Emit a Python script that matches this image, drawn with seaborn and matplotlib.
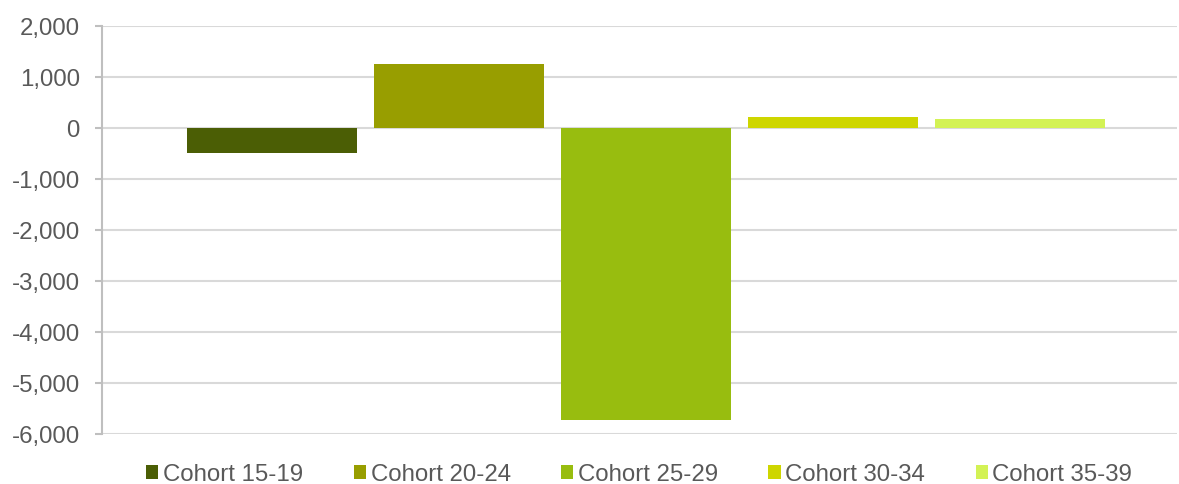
import matplotlib
matplotlib.use("Agg")
import matplotlib.pyplot as plt
import matplotlib.ticker as ticker
import pandas as pd
import seaborn as sns

# chart data
cohorts = ["Cohort 15-19", "Cohort 20-24", "Cohort 25-29", "Cohort 30-34", "Cohort 35-39"]
changes = [-490, 1255, -5725, 210, 175]
bar_colors = ["#4B5E05", "#989E00", "#98BD0F", "#CED600", "#D3F255"]
y_ticks = [2000, 1000, 0, -1000, -2000, -3000, -4000, -5000, -6000]

df = pd.DataFrame({"group": [""] * len(cohorts), "cohort": cohorts, "change": changes})

sns.set_style("white")
plt.rcParams["font.family"] = ["Liberation Sans", "DejaVu Sans"]
plt.rcParams["axes.unicode_minus"] = False

fig = plt.figure(figsize=(11.79, 4.84), dpi=100)
ax = fig.add_axes([0.0865, 0.103, 0.9115, 0.843])

sns.barplot(data=df, x="group", y="change", hue="cohort", hue_order=cohorts,
            palette=bar_colors, width=0.87, gap=0.09, saturation=1,
            edgecolor="none", ax=ax, legend=True)

ax.set_ylim(-6000, 2000)
ax.set_yticks(y_ticks)
ax.yaxis.set_major_formatter(ticker.StrMethodFormatter("{x:,.0f}"))
ax.set_xlim(-0.506, 0.494)
ax.set_xticks([])
ax.set_xlabel("")
ax.set_ylabel("")

ax.grid(axis="y", color="#D9D9D9", linewidth=1.5)
ax.set_axisbelow(True)
for s in ["top", "right", "bottom"]:
    ax.spines[s].set_visible(False)
ax.spines["left"].set_color("#BFBFBF")
ax.spines["left"].set_linewidth(1.5)
ax.tick_params(axis="y", which="major", left=True, length=5, width=1.5,
               color="#BFBFBF", labelsize=17.3, labelcolor="#595959", pad=11)

leg = ax.legend(loc="center", bbox_to_anchor=(0.5, -0.099), ncol=5,
                frameon=False, fontsize=17.3, handlelength=0.5, handleheight=0.5,
                handletextpad=0.2, columnspacing=2.1, borderpad=0)
for t in leg.get_texts():
    t.set_color("#595959")

plt.savefig("out.png", dpi=100)
plt.close(fig)
